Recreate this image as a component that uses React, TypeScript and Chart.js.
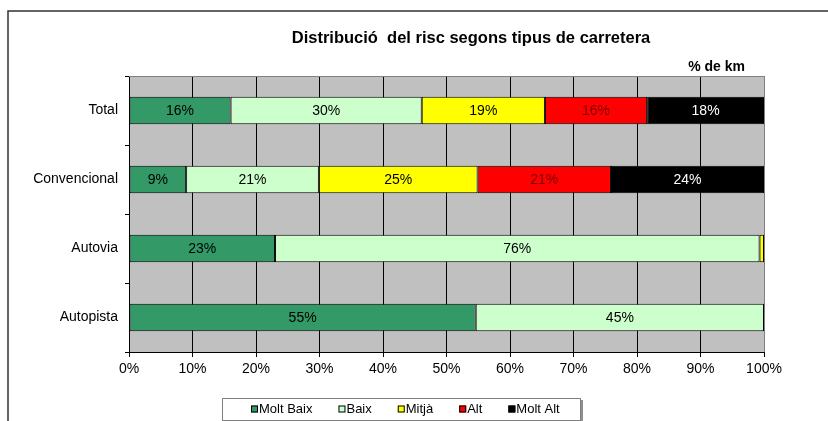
import React, { useEffect, useRef } from 'react';
import { Chart, registerables } from 'chart.js';

Chart.register(...registerables);

const title = 'Distribució  del risc segons tipus de carretera';
const unitLabel = '% de km';
const categories = ['Total', 'Convencional', 'Autovia', 'Autopista'];
const seriesNames = ['Molt Baix', 'Baix', 'Mitjà', 'Alt', 'Molt Alt'];
const moltBaix = [16.0, 9.0, 23.0, 54.6];
const baix = [30.1, 20.9, 76.3, 45.4];
const mitja = [19.4, 25.0, 0.7, null];
const alt = [16.1, 21.0, null, null];
const moltAlt = [18.4, 24.1, null, null];
const xTickValues = [0, 10, 20, 30, 40, 50, 60, 70, 80, 90, 100];

const fills = ['#339966', '#CCFFCC', '#FFFF00', '#FF0000', '#000000'];
const labelColors = ['#000000', '#000000', '#000000', '#7a0000', '#FFFFFF'];
const FONT = 'Arial, "Liberation Sans", sans-serif';

const framePlugin = {
  id: 'frame',
  beforeDraw(chart: any) {
    const ctx = chart.ctx;
    const { left, right, top, bottom } = chart.chartArea;
    ctx.save();
    ctx.fillStyle = '#FFFFFF';
    ctx.fillRect(0, 0, chart.width, chart.height);
    // outer frame
    ctx.strokeStyle = '#333333';
    ctx.lineWidth = 1.5;
    ctx.beginPath();
    ctx.moveTo(8, chart.height);
    ctx.lineTo(8, 11);
    ctx.lineTo(chart.width, 11);
    ctx.stroke();
    // plot background
    ctx.fillStyle = '#C0C0C0';
    ctx.fillRect(left, top, right - left, bottom - top);
    // title
    ctx.fillStyle = '#000000';
    ctx.font = `bold 16.5px ${FONT}`;
    ctx.textAlign = 'center';
    ctx.textBaseline = 'middle';
    ctx.fillText(title, 471, 38);
    ctx.font = `bold 14px ${FONT}`;
    ctx.textAlign = 'right';
    ctx.fillText(unitLabel, 745, 67);
    ctx.restore();
  },
  afterDraw(chart: any) {
    const ctx = chart.ctx;
    const { left, right, top } = chart.chartArea;
    ctx.save();
    ctx.strokeStyle = '#808080';
    ctx.lineWidth = 1;
    ctx.beginPath();
    ctx.moveTo(left, Math.round(top) + 0.5);
    ctx.lineTo(right, Math.round(top) + 0.5);
    ctx.stroke();
    // legend
    const bx = 222, by = 398, bw = 358, bh = 22;
    ctx.fillStyle = '#FFFFFF';
    ctx.fillRect(bx, by, bw, bh);
    ctx.strokeStyle = '#808080';
    ctx.lineWidth = 1;
    ctx.strokeRect(bx + 0.5, by + 0.5, bw, bh);
    ctx.fillStyle = '#909090';
    ctx.fillRect(bx + bw + 1, by + 2, 2, bh);
    ctx.font = `13px ${FONT}`;
    ctx.textBaseline = 'middle';
    ctx.textAlign = 'left';
    let x = 251;
    const cy = 409;
    chart.data.datasets.forEach((ds: any) => {
      ctx.fillStyle = ds.backgroundColor;
      ctx.fillRect(x, cy - 3.5, 7, 7);
      ctx.strokeStyle = '#000000';
      ctx.strokeRect(x + 0.5, cy - 3.5 + 0.5, 6, 6);
      ctx.fillStyle = '#000000';
      ctx.fillText(ds.label, x + 8, cy);
      x += 8 + ctx.measureText(ds.label).width + 26;
    });
    ctx.restore();
  },
};

const valueLabelPlugin = {
  id: 'valueLabels',
  afterDatasetsDraw(chart: any) {
    const ctx = chart.ctx;
    ctx.save();
    ctx.font = `14px ${FONT}`;
    ctx.textAlign = 'center';
    ctx.textBaseline = 'middle';
    chart.data.datasets.forEach((ds: any, di: number) => {
      const meta = chart.getDatasetMeta(di);
      meta.data.forEach((el: any, i: number) => {
        const v = ds.data[i];
        if (v == null) return;
        const w = Math.abs(el.x - el.base);
        if (w < 20) return;
        ctx.fillStyle = labelColors[di];
        ctx.fillText(Math.round(v) + '%', (el.x + el.base) / 2, el.y + 1);
      });
    });
    ctx.restore();
  },
};

export default function App() {
  const ref = useRef<HTMLCanvasElement>(null);
  useEffect(() => {
    document.body.style.margin = '0';
    const seriesData = [moltBaix, baix, mitja, alt, moltAlt];
    const chart = new Chart(ref.current as HTMLCanvasElement, {
      type: 'bar',
      data: {
        labels: categories,
        datasets: seriesNames.map((name, i) => ({
          label: name,
          data: seriesData[i] as any,
          backgroundColor: fills[i],
          borderColor: '#000000',
          borderWidth: 1,
          borderSkipped: false,
          barPercentage: 0.4,
          categoryPercentage: 1,
        })),
      },
      options: {
        indexAxis: 'y',
        responsive: false,
        animation: false,
        devicePixelRatio: 1,
        layout: { padding: { top: 76, left: 0, right: 64, bottom: 0 } },
        plugins: {
          legend: { display: false },
          title: { display: false },
          tooltip: { enabled: false },
        },
        scales: {
          x: {
            stacked: true,
            min: 0,
            max: 100,
            afterBuildTicks: (scale: any) => {
              scale.ticks = xTickValues.map((v) => ({ value: v }));
            },
            afterFit: (scale: any) => {
              scale.height = 69;
            },
            ticks: {
              callback: (v: any) => v + '%',
              color: '#000000',
              font: { family: FONT, size: 14 },
              padding: 4,
              maxRotation: 0,
              autoSkip: false,
            },
            grid: {
              color: (c: any) => (c.tick && c.tick.value === 100 ? '#808080' : '#000000'),
              tickColor: '#000000',
              lineWidth: 1,
              tickLength: 5,
            },
            border: { display: true, color: '#000000', width: 1 },
          },
          y: {
            stacked: true,
            afterFit: (scale: any) => {
              scale.width = 129;
            },
            ticks: {
              color: '#000000',
              font: { family: FONT, size: 14 },
              padding: 7,
            },
            grid: {
              offset: true,
              drawOnChartArea: false,
              color: '#000000',
              tickLength: 4,
            },
            border: { display: true, color: '#000000', width: 1 },
          },
        },
      },
      plugins: [framePlugin, valueLabelPlugin],
    } as any);
    return () => chart.destroy();
  }, []);
  return (
    <div style={{ position: 'absolute', left: 0, top: 0, width: 828, height: 421, background: '#fff' }}>
      <canvas ref={ref} width={828} height={421} />
    </div>
  );
}
